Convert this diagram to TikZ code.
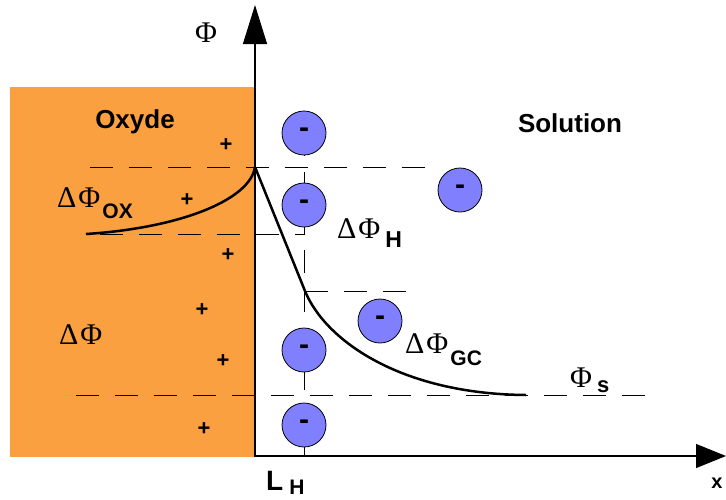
\documentclass[tikz,border=0pt]{standalone}
\usepackage{fontspec}
\setmainfont{Liberation Sans}
\newfontfamily\greekfont{Liberation Serif}
\usetikzlibrary{arrows.meta}
\definecolor{oxydeorange}{RGB}{250,160,64}
\definecolor{ionblue}{RGB}{128,128,255}

\newcommand{\dPhi}{{\greekfont\fontsize{30}{30}\selectfont Δ\kern2ptΦ}}
\newcommand{\bigPhi}{{\greekfont\fontsize{30}{30}\selectfont Φ}}
\newcommand{\subtxt}[3]{\raisebox{-#1}{\fontsize{#2}{#2}\selectfont\bfseries #3}}

\begin{document}
\begin{tikzpicture}[x=1pt,y=-1pt,
        ion/.style={
        circle, draw=black, line width=0.8pt,
        inner sep=0pt, minimum size=44pt,
        fill=ionblue, font=\fontsize{30}{30}\selectfont\bfseries},
        plus/.style={inner sep=0pt, font=\fontsize{22}{22}\selectfont\bfseries},
        word/.style={inner sep=0pt, font=\fontsize{26}{26}\selectfont\bfseries},
        lbl/.style={inner sep=0pt, anchor=base west},
        guide/.style={dash pattern=on 23pt off 16pt, line width=0.9pt},
        axis/.style={line width=1.2pt},
        pot/.style={line width=2.5pt, line join=round},
        ]

        \useasboundingbox (0,0) rectangle (726,499);
        \fill[oxydeorange] (10,87) rectangle (255,457);

        % axes
        \coordinate (O) at (255,456);
        \coordinate (ybot) at (255,457);
        \coordinate (ytip) at (255,5);
        \coordinate (xtip) at (726,456);
        \draw [axis, -{Triangle[length=39pt,width=24pt]}] (ybot) -- (ytip);
        \draw [axis, -{Triangle[length=30pt,width=24pt]}] (O) -- (xtip);

        % guide lines
        \draw [guide] (90,167) -- (426,167);
        \draw [guide] (100,234) -- (305,234);
        \draw [guide] (305,291) -- (412,291);
        \draw [guide] (76,395) -- (656,395);
        \draw [guide] (304,133) -- (304,456);

        % potential
        \coordinate (ox) at (86,234);
        \coordinate (surf) at (255,167);
        \coordinate (knee) at (305,291);
        \coordinate (bulk) at (526,395);
        \draw [pot] (ox) .. controls (180,228) and (250,200) .. (surf);
        \draw [pot] (surf) -- (knee);
        \draw [pot] (knee) .. controls (325,340) and (400,394) .. (bulk);

        % ions
        \node (i1) [ion] at (304,133){-};
        \node (i2) [ion] at (304,205){-};
        \node (i3) [ion] at (304,350){-};
        \node (i4) [ion] at (304,425){-};
        \node (i5) [ion] at (460,190){-};
        \node (i6) [ion] at (380,321){-};

        % charges in the oxyde
        \node (p1) [plus] at (226,145){+};
        \node (p2) [plus] at (187,200){+};
        \node (p3) [plus] at (228,255){+};
        \node (p4) [plus] at (202,310){+};
        \node (p5) [plus] at (223,361){+};
        \node (p6) [plus] at (204,429){+};

        % labels
        \node (oxyde) [word] at (135,122){Oxyde};
        \node (solution) [word] at (570,123){Solution};
        \node (phi) [lbl] at (195,42){\bigPhi};
        \node (dphiox) [lbl] at (57,207){\dPhi\kern2pt\subtxt{11pt}{21}{OX}};
        \node (dphih) [lbl] at (337,238){\dPhi\kern5pt\subtxt{9pt}{23}{H}};
        \node (dphi) [lbl] at (59,344){\dPhi};
        \node (dphigc) [lbl] at (405,353){\dPhi\kern2pt\subtxt{12pt}{21}{GC}};
        \node (phis) [lbl] at (570,387){\bigPhi\kern5pt\subtxt{5pt}{22}{s}};
        \node (xlab) [word, font=\fontsize{20}{20}\selectfont\bfseries] at (717,483){x};
        \node (lhlab) [lbl] at (266,490){\fontsize{28}{28}\selectfont\bfseries L\kern6pt\subtxt{4pt}{21}{H}};
    \end{tikzpicture}
\end{document}
